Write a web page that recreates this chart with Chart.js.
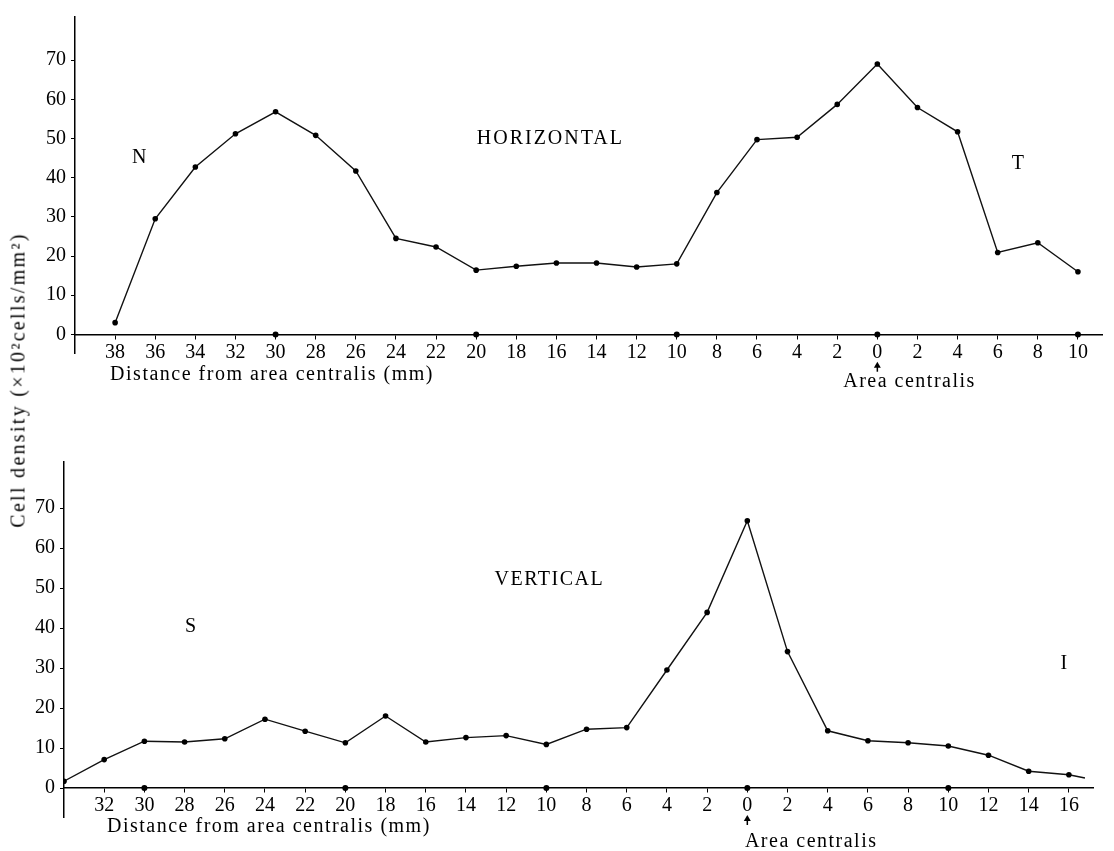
<!DOCTYPE html>
<html>
<head>
<meta charset="utf-8">
<script src="https://cdn.jsdelivr.net/npm/chart.js@4.4.1/dist/chart.umd.min.js"></script>
<style>
  html, body { margin: 0; padding: 0; background: #fff; }
  #wrap { position: relative; width: 1114px; height: 851px; overflow: hidden; background: #fff; }
  canvas { position: absolute; left: 0; }
  #topChart { top: 0; }
  #bottomChart { top: 430px; }
  .ylab {
    position: absolute; left: 18px; top: 380px;
    transform: translate(-50%, -50%) rotate(-90deg);
    font: 20px "Liberation Serif"; letter-spacing: 2.3px;
    white-space: nowrap; color: #000;
  }
</style>
</head>
<body>
<div id="wrap">
  <canvas id="topChart" width="1114" height="430"></canvas>
  <canvas id="bottomChart" width="1114" height="421"></canvas>
  <div class="ylab">Cell density (×10²cells/mm²)</div>
</div>
<script>
// horizontal meridian, mm from area centralis (negative = nasal, positive = temporal)
const horizDist = [-38, -36, -34, -32, -30, -28, -26, -24, -22, -20, -18, -16, -14, -12, -10, -8, -6, -4, -2, 0, 2, 4, 6, 8, 10];
const horizDensity = [3, 29.5, 42.7, 51.2, 56.8, 50.8, 41.7, 24.5, 22.3, 16.4, 17.4, 18.2, 18.2, 17.2, 18, 36.2, 49.7, 50.3, 58.7, 69, 57.9, 51.7, 20.9, 23.4, 16];

// vertical meridian (negative = superior, positive = inferior); last value is where the trace ends
const vertDist = [-34, -32, -30, -28, -26, -24, -22, -20, -18, -16, -14, -12, -10, -8, -6, -4, -2, 0, 2, 4, 6, 8, 10, 12, 14, 16, 16.8];
const vertDensity = [1.7, 7.1, 11.7, 11.5, 12.3, 17.2, 14.2, 11.3, 18, 11.5, 12.6, 13.1, 10.9, 14.7, 15.1, 29.5, 43.9, 66.8, 34.1, 14.3, 11.8, 11.3, 10.5, 8.2, 4.2, 3.3, 2.5];

const horizTicks = [-38, -36, -34, -32, -30, -28, -26, -24, -22, -20, -18, -16, -14, -12, -10, -8, -6, -4, -2, 0, 2, 4, 6, 8, 10];
const vertTicks = [-32, -30, -28, -26, -24, -22, -20, -18, -16, -14, -12, -10, -8, -6, -4, -2, 0, 2, 4, 6, 8, 10, 12, 14, 16];
const densityTicks = [0, 10, 20, 30, 40, 50, 60, 70];
const axisMarks = [-30, -20, -10, 0, 10];

const serif = "Liberation Serif";

// text labels + the little arrow under "0"
const notes = {
  id: "notes",
  afterDraw(chart, args, opts) {
    const { ctx } = chart;
    const x = chart.scales.x, y = chart.scales.y;
    ctx.save();
    ctx.fillStyle = "#000";
    ctx.textBaseline = "middle";
    for (const n of opts.items) {
      ctx.font = (n.size || 20) + "px \"" + serif + "\"";
      ctx.letterSpacing = (n.spacing || 0) + "px";
      ctx.textAlign = n.align || "center";
      ctx.fillText(n.text, x.getPixelForValue(n.x), y.getPixelForValue(n.y));
    }
    ctx.letterSpacing = "0px";
    const ax = x.getPixelForValue(0), ay = y.getPixelForValue(opts.arrowAt);
    ctx.beginPath();
    ctx.moveTo(ax, ay - 5);
    ctx.lineTo(ax - 3.5, ay + 1);
    ctx.lineTo(ax + 3.5, ay + 1);
    ctx.closePath();
    ctx.fill();
    ctx.fillRect(ax - 0.75, ay, 1.5, 5);
    ctx.restore();
  }
};

function makeChart(id, dist, density, ticks, xr, yr, yWidth, padding, items, arrowAt) {
  return new Chart(document.getElementById(id), {
    type: "line",
    data: {
      datasets: [
        {
          data: dist.map((d, i) => ({ x: d, y: density[i] })),
          borderColor: "#111",
          borderWidth: 1.4,
          tension: 0,
          pointRadius: c => (c.raw && c.raw.x % 2 !== 0 ? 0 : 2.8),
          pointBackgroundColor: "#000",
          pointBorderWidth: 0
        },
        {
          data: axisMarks.map(d => ({ x: d, y: 0 })),
          showLine: false,
          pointRadius: 3,
          pointBackgroundColor: "#000",
          pointBorderWidth: 0
        }
      ]
    },
    options: {
      responsive: false,
      animation: false,
      layout: { padding: padding },
      plugins: {
        legend: { display: false },
        tooltip: { enabled: false },
        notes: { items: items, arrowAt: arrowAt }
      },
      scales: {
        x: {
          type: "linear",
          min: xr[0],
          max: xr[1],
          position: { y: 0 },
          afterBuildTicks: s => { s.ticks = ticks.map(v => ({ value: v })); },
          ticks: {
            autoSkip: false,
            maxRotation: 0,
            padding: 2,
            color: "#000",
            font: { family: serif, size: 20 },
            callback: v => Math.abs(v)
          },
          grid: { drawOnChartArea: false, drawTicks: true, tickLength: 4, color: "#000" },
          border: { color: "#000", width: 1.5 }
        },
        y: {
          min: yr[0],
          max: yr[1],
          afterFit: s => { s.width = yWidth; },
          afterBuildTicks: s => { s.ticks = densityTicks.map(v => ({ value: v })); },
          ticks: {
            padding: 5,
            color: "#000",
            font: { family: serif, size: 20 }
          },
          grid: { drawOnChartArea: false, drawTicks: true, tickLength: 4, color: "#000" },
          border: { color: "#000", width: 1.5 }
        }
      }
    },
    plugins: [notes]
  });
}

makeChart("topChart", horizDist, horizDensity, horizTicks,
  [-40, 11.2], [-4.75, 81], 75,
  { top: 10, bottom: 77, left: 0, right: 12 },
  [
    { text: "HORIZONTAL", x: -16.3, y: 50, spacing: 2 },
    { text: "N", x: -36.8, y: 45 },
    { text: "T", x: 7, y: 43.5 },
    { text: "Distance from area centralis (mm)", x: -38.25, y: -10.25, align: "left", spacing: 1.5 },
    { text: "Area centralis", x: -1.7, y: -12, align: "left", spacing: 1.5 }
  ], -8.25);

makeChart("bottomChart", vertDist, vertDensity, vertTicks,
  [-34, 17.2], [-7.25, 81.5], 64,
  { top: 32, bottom: 34, left: 0, right: 21 },
  [
    { text: "VERTICAL", x: -9.85, y: 52, spacing: 1.5 },
    { text: "S", x: -27.7, y: 40.4 },
    { text: "I", x: 15.75, y: 31 },
    { text: "Distance from area centralis (mm)", x: -31.86, y: -9.75, align: "left", spacing: 1.5 },
    { text: "Area centralis", x: -0.12, y: -13.5, align: "left", spacing: 1.5 }
  ], -8);
</script>
</body>
</html>
